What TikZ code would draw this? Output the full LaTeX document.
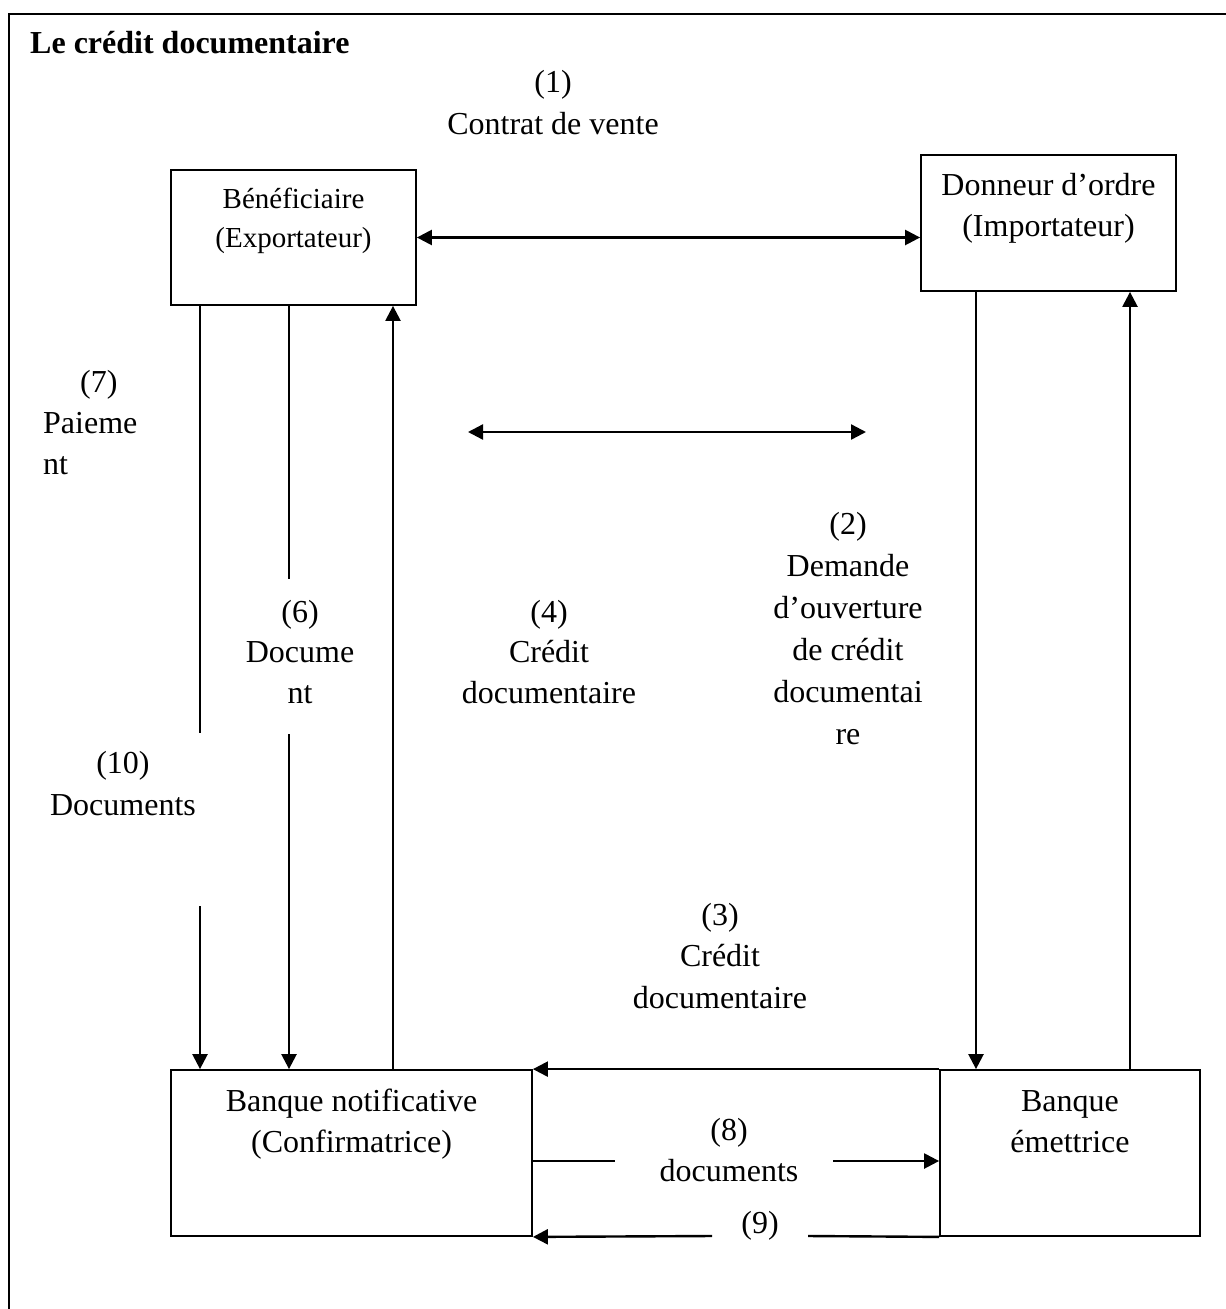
\documentclass[tikz,border=0pt]{standalone}
\usepackage{fontspec}
\setmainfont{Liberation Serif}
\usetikzlibrary{arrows.meta}
\begin{document}
\begin{tikzpicture}[x=1pt,y=-1pt,
  box/.style={draw,line width=1.8pt,inner sep=0pt},
  conn/.style={line width=2.4pt},
  arr/.style={line width=2.4pt,-{Triangle[length=15pt,width=15pt]}},
  darr/.style={line width=2.4pt,{Triangle[length=15pt,width=15pt]}-{Triangle[length=15pt,width=15pt]}},
  lbl/.style={inner sep=0pt,anchor=base,align=center,font=\fontsize{32}{41.5}\selectfont},
  small/.style={inner sep=0pt,anchor=base,align=center,font=\fontsize{29}{39}\selectfont}]
\useasboundingbox (0,0) rectangle (1226,1309);
% outer frame (open to the right and bottom)
\draw[line width=2.2pt] (9,1309) -- (9,14) -- (1226,14);
\node[inner sep=0pt,anchor=base west,font=\fontsize{32}{40}\selectfont\bfseries] (title) at (30,53) {Le crédit documentaire};

% boxes
\node[box,minimum width=245pt,minimum height=135pt] (ben) at (293.5,237.5) {};
\node[box,minimum width=255pt,minimum height=136pt] (don) at (1048.5,223) {};
\node[box,minimum width=361pt,minimum height=166pt] (notif) at (351.5,1153) {};
\node[box,minimum width=260pt,minimum height=166pt] (emet) at (1070,1153) {};

% box texts (anchor = baseline of last line)
\node[small] (bentxt) at (293.5,247) {Bénéficiaire\\(Exportateur)};
\node[lbl] (dontxt) at (1048.5,236.5) {Donneur d’ordre\\(Importateur)};
\node[lbl] (notiftxt) at (351.5,1152.5) {Banque notificative\\(Confirmatrice)};
\node[lbl] (emettxt) at (1070,1152.5) {Banque\\émettrice};

% labels
\node[lbl] (l1) at (553,134) {(1)\\Contrat de vente};
\node[lbl,align=left,anchor=base west,font=\fontsize{32}{41}\selectfont] (l7) at (43,474) {\hspace*{37pt}(7)\\Paieme\\nt};
\node[lbl,font=\fontsize{32}{40.5}\selectfont] (l6) at (300,703) {(6)\\Docume\\nt};
\node[lbl] (l10) at (123,815) {(10)\\Documents};
\node[lbl,font=\fontsize{32}{40.5}\selectfont] (l4) at (549,703) {(4)\\Crédit\\documentaire};
\node[lbl,font=\fontsize{32}{42}\selectfont] (l2) at (848,744) {(2)\\Demande\\d’ouverture\\de crédit\\documentai\\re};
\node[lbl] (l3) at (720,1008) {(3)\\Crédit\\documentaire};
\node[lbl] (l8) at (729,1181.5) {(8)\\documents};
\node[lbl] (l9) at (760,1233) {(9)};

% helper coordinates
\coordinate (a1) at (200,733);
\coordinate (a2) at (200,906);
\coordinate (b1) at (289,579);
\coordinate (b2) at (289,734);
\coordinate (c1) at (393,0);
\coordinate (d1) at (976,0);
\coordinate (e1) at (1130,0);
\coordinate (m1) at (468,432);
\coordinate (m2) at (866,432);
\coordinate (g8a) at (615,1161);
\coordinate (g8b) at (833,1161);
\coordinate (g9a) at (808,1236);
\coordinate (g9b) at (712,1236);

% (1) contract
\draw[darr] (ben.east) -- (ben.east -| don.west);
% floating double arrow
\draw[darr] (m1) -- (m2);
% (7)/(10) line at x=200
\draw[conn] (ben.south -| a1) -- (a1);
\draw[arr] (a2) -- (a2 |- notif.north);
% (6) line at x=289
\draw[conn] (ben.south -| b1) -- (b1);
\draw[arr] (b2) -- (b2 |- notif.north);
% (4) up to beneficiaire
\draw[arr] (notif.north -| c1) -- (ben.south -| c1);
% (2) down to banque emettrice
\draw[arr] (don.south -| d1) -- (emet.north -| d1);
% up to donneur
\draw[arr] (emet.north -| e1) -- (don.south -| e1);
% (3) emettrice -> notificative
\draw[arr] (emet.north west) -- (notif.north east);
% (8)
\draw[conn] (g8a -| notif.east) -- (g8a);
\draw[arr] (g8b) -- (g8b -| emet.west);
% (9)
\draw[conn] (emet.south west) -- (g9a);
\draw[arr] (g9b) -- (notif.south east);
\end{tikzpicture}
\end{document}
